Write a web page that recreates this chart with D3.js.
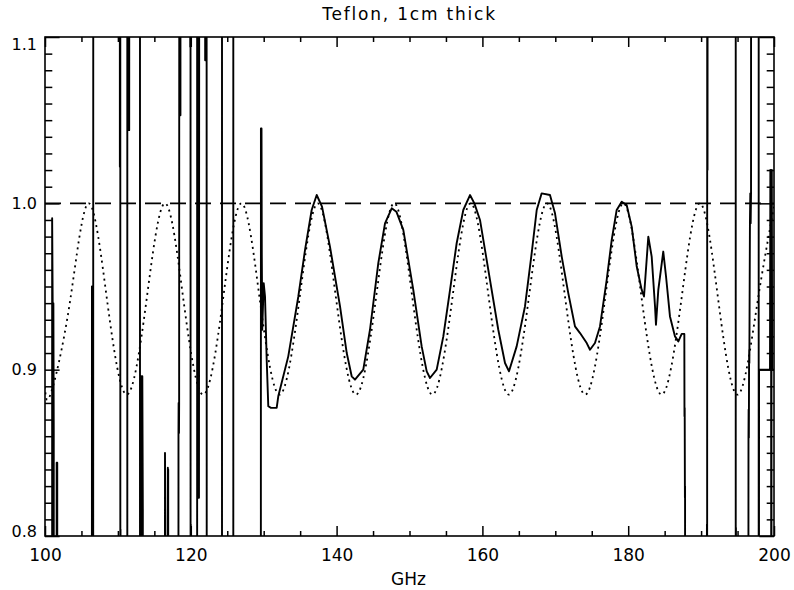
<!DOCTYPE html>
<html><head><meta charset="utf-8">
<script src="https://cdn.jsdelivr.net/npm/d3@7"></script>
<style>
body{margin:0;background:#fff}
svg{display:block}
</style>
</head><body>
<svg id="c" width="794" height="590"></svg>
<script>
// ---------- data ----------
const chartTitle = "Teflon, 1cm thick";
const xLabel = "GHz";
const xDomain = [100, 200];
const yDomain = [0.8, 1.1];
const xMajorTicks = [100, 120, 140, 160, 180, 200];
const xMinorTicks = [105, 110, 115, 125, 130, 135, 145, 150, 155, 165, 170, 175, 185, 190, 195];
const yMajorTicks = [0.8, 0.9, 1.0, 1.1];
const yMinorTicks = [0.81, 0.82, 0.83, 0.84, 0.85, 0.86, 0.87, 0.88, 0.89,
                     0.91, 0.92, 0.93, 0.94, 0.95, 0.96, 0.97, 0.98, 0.99,
                     1.01, 1.02, 1.03, 1.04, 1.05, 1.06, 1.07, 1.08, 1.09];
const unityLevel = 1.0;

// model transmission (dotted), read at troughs / quarter points / peaks
const modelGHz = [100.00, 100.74, 103.36, 105.98, 108.60, 111.22, 113.84, 116.46, 119.08, 121.70,
                  124.32, 126.94, 129.56, 132.18, 134.80, 137.42, 140.04, 142.66, 145.28, 147.90,
                  150.52, 153.14, 155.76, 158.38, 161.00, 163.62, 166.24, 168.86, 171.48, 174.10,
                  176.72, 179.34, 181.96, 184.58, 187.20, 189.82, 192.44, 195.06, 197.68, 200.00];
const modelT   = [0.890, 0.885, 0.939, 1.000, 0.939, 0.885, 0.939, 1.000, 0.939, 0.885,
                  0.939, 1.000, 0.939, 0.885, 0.939, 1.000, 0.939, 0.885, 0.939, 1.000,
                  0.939, 0.885, 0.939, 1.000, 0.939, 0.885, 0.939, 1.000, 0.939, 0.885,
                  0.939, 1.000, 0.939, 0.885, 0.939, 1.000, 0.939, 0.885, 0.939, 0.998];

// measured transmission (solid); 1.6 / 0.4 are off-scale readings
const measured = [
 [100.00,0.4],
 [100.98,0.4],[100.98,0.991],[101.05,0.942],[101.10,0.863],[101.15,0.940],[101.20,0.863],[101.22,0.4],
 [101.58,0.4],[101.60,0.844],[101.65,0.830],[101.68,0.844],[101.70,0.4],
 [106.42,0.4],[106.44,0.950],[106.50,0.4],[106.55,0.950],[106.60,0.4],[106.63,1.6],
 [110.25,1.6],[110.27,1.022],[110.32,1.6],[110.34,0.4],[110.36,0.804],[110.38,0.4],
 [111.29,0.4],[111.29,1.6],[111.40,1.044],[111.50,1.6],[111.55,1.044],[111.60,1.6],
 [113.03,1.6],[113.03,0.4],[113.20,0.4],[113.22,0.896],[113.30,0.816],[113.35,0.896],[113.42,0.816],[113.44,0.4],
 [116.44,0.4],[116.46,0.850],[116.50,0.811],[116.52,0.4],[116.82,0.4],[116.85,0.841],[116.87,0.814],[116.90,0.840],[116.92,0.4],
 [118.29,0.4],[118.31,0.862],[118.33,0.880],[118.38,0.862],[118.40,0.880],[118.45,1.6],[118.50,1.053],[118.55,1.6],[118.58,1.053],[118.60,1.6],
 [119.90,1.6],[119.92,1.094],[119.95,1.6],[119.98,0.4],[120.00,0.807],[120.03,0.4],
 [120.87,0.4],[120.87,1.6],[120.95,0.823],[121.05,1.6],[121.12,0.823],[121.20,1.6],
 [121.95,1.6],[121.97,1.086],[122.05,1.6],[122.10,1.086],[122.15,1.6],[122.20,0.4],
 [124.28,0.4],[124.28,1.6],
 [125.83,1.6],[125.83,0.4],
 [129.60,0.4],[129.62,1.045],[129.66,0.968],[129.70,1.045],[129.74,0.968],[129.80,0.924],
 [130.00,0.952],[130.18,0.944],[130.41,0.906],[130.63,0.878],[131.00,0.877],[131.78,0.877],
 [132.00,0.884],[133.37,0.908],[134.75,0.944],[135.67,0.972],[136.58,0.996],[137.27,1.005],[138.00,0.998],
 [139.09,0.974],[140.47,0.938],[141.39,0.910],[142.07,0.896],[142.52,0.894],[143.66,0.900],[144.58,0.924],
 [145.72,0.964],[146.64,0.988],[147.56,0.997],[148.20,0.995],
 [149.15,0.984],[150.52,0.948],[151.67,0.914],[152.36,0.899],[152.81,0.895],[153.73,0.900],[154.64,0.920],
 [155.56,0.948],[156.47,0.976],[157.38,0.996],[158.30,1.005],[158.90,1.000],
 [159.67,0.990],[161.04,0.954],[162.18,0.924],[163.10,0.904],[163.65,0.899],
 [164.70,0.914],[165.84,0.938],[166.76,0.970],[167.45,0.996],[168.13,1.006],[169.27,1.005],[169.96,0.994],
 [170.88,0.968],[171.78,0.946],[172.70,0.926],[173.39,0.922],[174.31,0.916],[174.76,0.912],[175.44,0.916],
 [176.13,0.926],[177.05,0.954],[177.74,0.978],[178.42,0.996],[179.11,1.001],[179.79,0.999],[180.48,0.986],
 [181.17,0.962],[181.85,0.948],[182.17,0.944],[182.76,0.980],[183.22,0.968],[183.68,0.938],[183.81,0.927],
 [184.13,0.948],[184.81,0.971],[185.19,0.956],[185.73,0.932],[186.42,0.920],[186.88,0.917],[187.34,0.9215],[187.70,0.9215],
 [187.72,0.872],[187.75,0.877],[187.78,0.823],[187.80,0.830],[187.82,0.4],
 [190.78,0.4],[190.80,0.807],[190.82,0.4],[190.85,1.6],[190.88,1.020],[190.93,1.6],
 [194.75,1.6],[194.75,0.4],[194.78,0.805],[194.80,0.4],
 [196.45,0.4],[196.50,0.859],[196.52,0.876],[196.55,0.859],[196.58,0.904],[196.60,0.912],[196.62,0.904],
 [196.70,0.988],[196.75,1.006],[196.80,0.988],[196.85,1.006],[196.87,1.6],
 [197.90,1.6],[197.90,0.4],[197.95,0.900],[199.45,0.900],[199.50,1.020],[199.55,0.904],[199.60,1.015],
 [199.64,0.4],[199.66,0.952],[199.70,1.020],[199.75,0.900],[200.00,0.900]
];

// ---------- drawing ----------
const W = 794, H = 590;
const L = 45, R = 774, T = 37, B = 536;
const FONT = "'DejaVu Sans', Verdana, sans-serif";
const svg = d3.select("#c");
svg.append("rect").attr("width", W).attr("height", H).attr("fill", "#fff");

const x = d3.scaleLinear().domain(xDomain).range([L, R]);
const y = d3.scaleLinear().domain(yDomain).range([B, T]);

svg.append("defs").append("clipPath").attr("id", "plotclip")
  .append("rect").attr("x", L).attr("y", T).attr("width", R - L).attr("height", B - T);

const plot = svg.append("g").attr("clip-path", "url(#plotclip)");

// unity dashed line
plot.append("line")
  .attr("x1", x(xDomain[0])).attr("x2", x(xDomain[1]))
  .attr("y1", y(unityLevel)).attr("y2", y(unityLevel))
  .attr("stroke", "#000").attr("stroke-width", 1.8).attr("stroke-dasharray", "16,9");

// model dotted curve
const modelLine = d3.line().x((d, i) => x(modelGHz[i])).y((d, i) => y(modelT[i])).curve(d3.curveNatural);
plot.append("path").attr("d", modelLine(modelGHz))
  .attr("fill", "none").attr("stroke", "#000").attr("stroke-width", 1.8)
  .attr("stroke-dasharray", "2,4");

// measured solid curve
const measLine = d3.line().x(d => x(d[0])).y(d => y(d[1]));
plot.append("path").attr("d", measLine(measured))
  .attr("fill", "none").attr("stroke", "#000").attr("stroke-width", 1.9)
  .attr("stroke-linejoin", "round");

// axes
function styleAxis(g) {
  g.select(".domain").remove();
  g.selectAll(".tick line").attr("stroke", "#000").attr("stroke-width", 1.5);
  g.attr("font-family", FONT).attr("font-size", 17);
  g.selectAll(".tick text").attr("fill", "#000");
  return g;
}
styleAxis(svg.append("g").attr("transform", `translate(0,${B})`)
  .call(d3.axisBottom(x).tickValues(xMajorTicks).tickSize(-10).tickSizeOuter(0).tickPadding(13).tickFormat(d3.format("d"))));
styleAxis(svg.append("g").attr("transform", `translate(0,${B})`)
  .call(d3.axisBottom(x).tickValues(xMinorTicks).tickSize(-5).tickSizeOuter(0).tickFormat("")));
styleAxis(svg.append("g").attr("transform", `translate(0,${T})`)
  .call(d3.axisTop(x).tickValues(xMajorTicks).tickSize(-10).tickSizeOuter(0).tickFormat("")));
styleAxis(svg.append("g").attr("transform", `translate(0,${T})`)
  .call(d3.axisTop(x).tickValues(xMinorTicks).tickSize(-5).tickSizeOuter(0).tickFormat("")));

const yl = styleAxis(svg.append("g").attr("transform", `translate(${L},0)`)
  .call(d3.axisLeft(y).tickValues(yMajorTicks).tickSize(-14.6).tickSizeOuter(0).tickPadding(8).tickFormat(d3.format(".1f"))));
yl.attr("font-size", 16);
yl.selectAll(".tick text").attr("transform", d => d === yDomain[1] ? "translate(0,7)" : (d === yDomain[0] ? "translate(0,-5)" : null));
styleAxis(svg.append("g").attr("transform", `translate(${L},0)`)
  .call(d3.axisLeft(y).tickValues(yMinorTicks).tickSize(-7.3).tickSizeOuter(0).tickFormat("")));
styleAxis(svg.append("g").attr("transform", `translate(${R},0)`)
  .call(d3.axisRight(y).tickValues(yMajorTicks).tickSize(-14.6).tickSizeOuter(0).tickFormat("")));
styleAxis(svg.append("g").attr("transform", `translate(${R},0)`)
  .call(d3.axisRight(y).tickValues(yMinorTicks).tickSize(-7.3).tickSizeOuter(0).tickFormat("")));

// frame
svg.append("rect").attr("x", L).attr("y", T).attr("width", R - L).attr("height", B - T)
  .attr("fill", "none").attr("stroke", "#000").attr("stroke-width", 1.6);

// title & axis label
svg.append("text").attr("x", (L + R) / 2).attr("y", 20).attr("text-anchor", "middle")
  .attr("font-family", FONT).attr("font-size", 17).attr("letter-spacing", 1.8)
  .attr("fill", "#000").text(chartTitle);
svg.append("text").attr("x", (L + R) / 2 - 1).attr("y", 585).attr("text-anchor", "middle")
  .attr("font-family", FONT).attr("font-size", 17).attr("fill", "#000").text(xLabel);
</script>
</body></html>
